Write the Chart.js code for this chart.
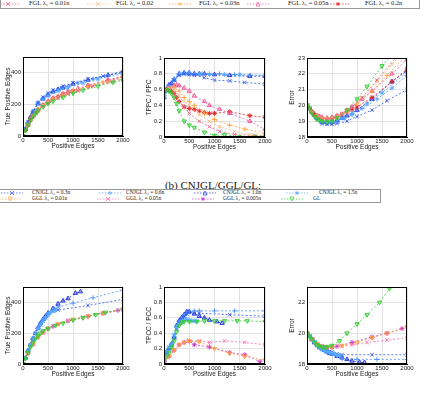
<!DOCTYPE html>
<html><head><meta charset="utf-8">
<script src="https://cdn.jsdelivr.net/npm/chart.js@4.4.1/dist/chart.umd.min.js"></script>
<style>
body{margin:0;width:428px;height:407px;overflow:hidden;background:#fff;position:relative;font-family:"Liberation Serif","DejaVu Serif",serif}
canvas{position:absolute}
.box{position:absolute;border:1px solid #999;background:#fff;box-sizing:border-box}
.item{position:absolute;white-space:nowrap;line-height:1;color:#222}
.item svg{position:absolute;left:0;top:0}
.item span{position:absolute;top:0}
#title{position:absolute;top:179px;left:0;width:426px;text-align:center;font-size:11px;font-weight:normal;color:#222}
</style></head><body>
<div class="box" id="legTop" style="left:0;top:-20px;width:420px;height:29px"></div>
<div id="title">(b) CNJGL/GGL/GL:</div>
<div class="box" id="legBot" style="left:-1px;top:189px;width:382px;height:14px"></div>
<canvas id="c1" width="135" height="105" style="left:0;top:45px"></canvas>
<canvas id="c2" width="136" height="105" style="left:141px;top:46px"></canvas>
<canvas id="c3" width="135" height="105" style="left:284px;top:46px"></canvas>
<canvas id="c4" width="135" height="103" style="left:0;top:275px"></canvas>
<canvas id="c5" width="136" height="103" style="left:141px;top:275px"></canvas>
<canvas id="c6" width="135" height="103" style="left:284px;top:275px"></canvas>
<script>
// tick labels
const xTicks = [0, 500, 1000, 1500, 2000];
const tpTicks = [0, 200, 400];
const ratioTicks = [0, 0.2, 0.4, 0.6, 0.8, 1];
const errTicksTop = [18, 19, 20, 21, 22, 23];
const errTicksBot = [18, 20, 22];

// legend labels
const topLegend = ['FGL λ₂ = 0.01n', 'FGL λ₂ = 0.02', 'FGL λ₂ = 0.03n', 'FGL λ₂ = 0.05n', 'FGL λ₂ = 0.2n'];
const botLegend1 = ['CNJGL λ₂ = 0.3n', 'CNJGL λ₂ = 0.6n', 'CNJGL λ₂ = 1.0n', 'CNJGL λ₂ = 1.5n'];
const botLegend2 = ['GGL λ₂ = 0.01n', 'GGL λ₂ = 0.05n', 'GGL λ₂ = 0.005n', 'GL'];

// ---- top row (positive edges, true positives, TPPC/PPC, error) ----
const cnA_x = [0, 50, 100, 150, 200, 300, 400, 500, 600, 700, 800, 1000, 1300, 1700, 2000];
const cnA_tp = [0, 45, 85, 120, 150, 205, 235, 260, 280, 295, 305, 330, 355, 385, 410];
const cnA_r = [0.5, 0.6, 0.66, 0.68, 0.72, 0.8, 0.81, 0.81, 0.8, 0.8, 0.8, 0.79, 0.78, 0.77, 0.77];
const cnA_e = [20, 19.8, 19.6, 19.4, 19.2, 18.95, 18.9, 18.95, 19.05, 19.2, 19.35, 19.7, 20.4, 21.5, 22.2];

const cnB_x = [0, 50, 100, 200, 300, 400, 500, 600, 750, 900, 1100, 1400, 1700, 2000];
const cnB_tp = [0, 45, 85, 155, 210, 240, 265, 285, 300, 315, 335, 360, 385, 405];
const cnB_r = [0.52, 0.62, 0.65, 0.74, 0.8, 0.82, 0.81, 0.8, 0.8, 0.8, 0.8, 0.79, 0.78, 0.78];
const cnB_e = [20, 19.8, 19.6, 19.15, 18.9, 18.85, 18.9, 19.0, 19.2, 19.4, 19.8, 20.4, 21.1, 21.9];

const cnC_x = [0, 50, 100, 200, 300, 400, 500, 600, 800, 1000, 1300, 1600, 2000];
const cnC_tp = [0, 45, 85, 155, 210, 245, 270, 290, 315, 335, 360, 380, 400];
const cnC_r = [0.55, 0.6, 0.65, 0.72, 0.78, 0.8, 0.79, 0.78, 0.75, 0.72, 0.71, 0.69, 0.67];
const cnC_e = [20, 19.8, 19.55, 19.1, 18.85, 18.8, 18.8, 18.85, 19.0, 19.3, 19.7, 20.3, 21.0];

const cnD_x = [0, 50, 100, 200, 300, 400, 500, 700, 900, 1200, 1500, 2000];
const cnD_tp = [0, 45, 85, 150, 205, 235, 255, 285, 305, 335, 360, 395];
const cnD_r = [0.5, 0.58, 0.64, 0.72, 0.79, 0.8, 0.8, 0.8, 0.79, 0.79, 0.79, 0.78];
const cnD_e = [20, 19.8, 19.6, 19.2, 19.0, 18.95, 19.0, 19.2, 19.5, 20.1, 20.8, 22.1];

const f02_x = [0, 50, 100, 150, 200, 250, 300, 400, 500, 600, 700, 800, 900, 1000, 1300, 1700, 2000];
const f02_tp = [0, 35, 70, 100, 125, 145, 165, 195, 215, 235, 250, 265, 275, 285, 315, 350, 375];
const f02_r = [0.6, 0.6, 0.6, 0.58, 0.55, 0.5, 0.45, 0.38, 0.36, 0.35, 0.33, 0.31, 0.3, 0.3, 0.32, 0.27, 0.25];
const f02_e = [20, 19.8, 19.6, 19.45, 19.35, 19.25, 19.2, 19.15, 19.2, 19.3, 19.45, 19.6, 19.75, 19.9, 20.5, 21.5, 22.3];

const f005_x = [0, 100, 200, 250, 300, 400, 500, 600, 800, 900, 1100, 1300, 1700, 2000];
const f005_tp = [0, 70, 125, 145, 165, 195, 220, 240, 265, 280, 300, 320, 355, 380];
const f005_r = [0.6, 0.62, 0.65, 0.66, 0.65, 0.62, 0.58, 0.52, 0.45, 0.4, 0.35, 0.3, 0.2, 0.1];
const f005_e = [20, 19.6, 19.35, 19.3, 19.25, 19.2, 19.25, 19.35, 19.7, 19.9, 20.4, 20.9, 22.0, 22.9];

const f003_x = [0, 100, 200, 300, 400, 500, 600, 800, 1000, 1300, 1600, 2000];
const f003_tp = [0, 70, 125, 165, 195, 215, 235, 260, 285, 315, 340, 370];
const f003_r = [0.6, 0.62, 0.63, 0.58, 0.5, 0.45, 0.4, 0.3, 0.22, 0.15, 0.1, 0.05];
const f003_e = [20, 19.6, 19.35, 19.2, 19.15, 19.2, 19.3, 19.6, 20.1, 20.9, 21.9, 23.2];

const f002_x = [0, 100, 200, 300, 400, 500, 700, 900, 1100, 1400, 1700, 2000];
const f002_tp = [0, 70, 125, 165, 195, 215, 245, 270, 290, 320, 345, 365];
const f002_r = [0.6, 0.62, 0.6, 0.52, 0.45, 0.4, 0.28, 0.2, 0.13, 0.07, 0.03, 0.02];
const f002_e = [20, 19.6, 19.35, 19.2, 19.15, 19.2, 19.45, 19.9, 20.5, 21.5, 22.6, 23.6];

const f001_x = [0, 100, 200, 300, 400, 500, 700, 900, 1100, 1400, 1800, 2000];
const f001_tp = [0, 70, 122, 160, 190, 210, 240, 265, 285, 315, 345, 360];
const f001_r = [0.6, 0.6, 0.55, 0.45, 0.38, 0.3, 0.2, 0.13, 0.07, 0.03, 0.02, 0.01];
const f001_e = [20, 19.6, 19.3, 19.15, 19.1, 19.15, 19.4, 19.9, 20.5, 21.6, 23.1, 23.8];

const glT_x = [0, 50, 100, 150, 200, 250, 300, 400, 500, 600, 800, 1000, 1200, 1500, 1800, 2000];
const glT_tp = [0, 35, 70, 100, 125, 145, 160, 185, 205, 220, 245, 270, 290, 315, 340, 350];
const glT_r = [0.6, 0.6, 0.58, 0.55, 0.5, 0.42, 0.33, 0.2, 0.15, 0.12, 0.06, 0.02, 0.03, 0, 0, 0];
const glT_e = [20, 19.8, 19.5, 19.3, 19.15, 19.05, 19.0, 18.95, 19.0, 19.2, 19.7, 20.4, 21.2, 22.5, 23.6, 24.3];

// ---- bottom row (positive edges, true positives, TPCC/PCC, error) ----
const c03_x = [0, 50, 100, 150, 200, 250, 300, 350, 400, 450, 500, 600, 700, 1300, 2000];
const c03_tp = [0, 40, 85, 125, 160, 195, 230, 255, 280, 300, 320, 345, 350, 380, 420];
const c03_r = [0.05, 0.15, 0.2, 0.24, 0.33, 0.45, 0.55, 0.58, 0.62, 0.65, 0.67, 0.66, 0.66, 0.64, 0.62];
const c03_e = [20, 19.8, 19.6, 19.4, 19.25, 19.1, 19.0, 18.9, 18.85, 18.8, 18.75, 18.65, 18.6, 18.6, 18.6];

const c06_x = [0, 50, 100, 150, 200, 250, 300, 350, 400, 450, 500, 600, 700, 1000, 1400, 2000];
const c06_tp = [0, 40, 85, 125, 165, 200, 235, 260, 285, 305, 325, 350, 370, 395, 430, 480];
const c06_r = [0.05, 0.15, 0.2, 0.25, 0.35, 0.48, 0.55, 0.6, 0.63, 0.66, 0.68, 0.69, 0.69, 0.69, 0.69, 0.69];
const c06_e = [20, 19.8, 19.6, 19.4, 19.25, 19.1, 19.0, 18.9, 18.8, 18.75, 18.7, 18.55, 18.35, 18.3, 18.3, 18.3];

const c10_x = [0, 50, 100, 150, 200, 250, 300, 350, 400, 450, 500, 600, 700, 800, 900, 1050, 1150];
const c10_tp = [0, 40, 85, 125, 165, 200, 235, 265, 290, 310, 330, 360, 390, 410, 425, 460, 470];
const c10_r = [0.05, 0.15, 0.2, 0.26, 0.35, 0.5, 0.56, 0.6, 0.64, 0.68, 0.68, 0.65, 0.62, 0.6, 0.57, 0.55, 0.53];
const c10_e = [20, 19.8, 19.6, 19.4, 19.25, 19.1, 19.0, 18.9, 18.8, 18.7, 18.65, 18.5, 18.4, 18.3, 18.2, 18.12, 18.1];

const c15_x = [0, 50, 100, 150, 200, 250, 300, 350, 400, 450, 500, 550, 600, 650];
const c15_tp = [0, 40, 85, 125, 165, 200, 230, 255, 280, 300, 320, 335, 345, 350];
const c15_r = [0.1, 0.16, 0.22, 0.26, 0.38, 0.48, 0.52, 0.55, 0.57, 0.58, 0.57, 0.56, 0.56, 0.56];
const c15_e = [20, 19.8, 19.6, 19.4, 19.2, 19.05, 18.95, 18.85, 18.8, 18.75, 18.7, 18.65, 18.6, 18.55];

const glB_x = [0, 50, 100, 150, 200, 250, 300, 350, 400, 500, 650, 800, 1000, 1200, 1450, 1650, 2000];
const glB_tp = [0, 35, 75, 110, 140, 165, 185, 200, 215, 230, 250, 265, 285, 300, 320, 335, 355];
const glB_r = [0.05, 0.1, 0.15, 0.22, 0.3, 0.42, 0.5, 0.54, 0.55, 0.55, 0.55, 0.56, 0.56, 0.56, 0.56, 0.56, 0.55];
const glB_e = [20, 19.8, 19.6, 19.4, 19.25, 19.15, 19.1, 19.1, 19.1, 19.2, 19.5, 20.0, 20.6, 21.2, 22.0, 22.9, 24.2];

const g001_x = [0, 100, 200, 300, 400, 500, 700, 1000, 1300, 1600, 2000];
const g001_tp = [0, 70, 130, 175, 205, 230, 260, 290, 310, 330, 352];
const g001_r = [0.02, 0.1, 0.18, 0.25, 0.28, 0.3, 0.29, 0.2, 0.14, 0.1, 0.05];
const g001_e = [20, 19.6, 19.3, 19.15, 19.1, 19.1, 19.2, 19.4, 19.7, 20.0, 20.4];

const g005_x = [0, 100, 200, 300, 400, 500, 700, 900, 1200, 1600, 2000];
const g005_tp = [0, 70, 130, 175, 205, 230, 260, 280, 305, 330, 352];
const g005_r = [0.02, 0.1, 0.18, 0.25, 0.28, 0.3, 0.3, 0.28, 0.3, 0.28, 0.25];
const g005_e = [20, 19.6, 19.3, 19.15, 19.1, 19.1, 19.15, 19.25, 19.4, 19.55, 19.7];

const g0005_x = [0, 100, 200, 300, 400, 500, 600, 900, 1300, 1600, 1900];
const g0005_tp = [0, 70, 130, 175, 205, 230, 245, 280, 310, 330, 348];
const g0005_r = [0.02, 0.1, 0.18, 0.25, 0.28, 0.3, 0.25, 0.22, 0.15, 0.12, 0.03];
const g0005_e = [20, 19.6, 19.3, 19.15, 19.1, 19.1, 19.15, 19.4, 19.75, 20.0, 20.3];

const DARKBLUE = '#1a2fd8', BLUE = '#3355ee', LIGHTBLUE = '#4a90ff', SKY = '#55aaff';
const RED = '#e02020', REDPINK = '#e8607a', PEACH = '#f5b880', ORANGE = '#ffa040', PINK = '#ee5599';
const GREEN = '#33cc33', MAGENTA = '#cc33cc', HOTPINK = '#ff66aa';

Chart.defaults.font.family = '"Liberation Sans", Arial, sans-serif';
Chart.defaults.font.size = 6;
Chart.defaults.color = '#222';

function ds(xs, ys, color, style, rot) {
  return {
    data: xs.map((x, i) => ({ x: x, y: ys[i] })),
    showLine: true,
    borderColor: color,
    backgroundColor: color + '55',
    borderWidth: 0.8,
    borderDash: [2, 2],
    pointStyle: style,
    pointRotation: rot || 0,
    pointRadius: 2.5,
    pointBorderWidth: 0.9,
    pointBorderColor: color,
    pointBackgroundColor: color + '55'
  };
}

const frame = {
  id: 'frame',
  afterDraw(chart) {
    const a = chart.chartArea, c = chart.ctx;
    c.save();
    c.strokeStyle = '#000';
    c.lineWidth = 1;
    c.strokeRect(a.left + 0.5, a.top + 0.5, a.right - a.left - 1, a.bottom - a.top - 1);
    c.restore();
  }
};

function makeChart(id, datasets, yMin, yMax, yTicks, yTitle) {
  new Chart(document.getElementById(id), {
    type: 'scatter',
    data: { datasets: datasets },
    options: {
      responsive: false,
      animation: false,
      devicePixelRatio: 1,
      layout: { padding: { top: 12, right: 12, left: 4, bottom: 0 } },
      plugins: { legend: { display: false }, tooltip: { enabled: false } },
      scales: {
        x: {
          type: 'linear', min: 0, max: 2000,
          afterBuildTicks: s => { s.ticks = xTicks.map(v => ({ value: v })); },
          afterFit: s => { s.height = 14; },
          grid: { color: '#e2e2e2', drawTicks: false },
          border: { color: '#000' },
          ticks: { padding: 1, maxRotation: 0, autoSkip: false, font: { size: 6 }, callback: v => String(v) },
          title: { display: true, text: 'Positive Edges', font: { size: 6.5 }, padding: { top: 0, bottom: 0 } }
        },
        y: {
          type: 'linear', min: yMin, max: yMax,
          afterBuildTicks: s => { s.ticks = yTicks.map(v => ({ value: v })); },
          afterFit: s => { s.width = 19; },
          grid: { color: '#e2e2e2', drawTicks: false },
          border: { color: '#000' },
          ticks: { padding: 2, autoSkip: false, font: { size: 6 }, callback: v => String(v) },
          title: { display: true, text: yTitle, font: { size: 6.5 }, padding: { top: 0, bottom: 1 } }
        }
      }
    },
    plugins: [frame]
  });
}

// top row
makeChart('c1', [
  ds(glT_x, glT_tp, GREEN, 'triangle', 180),
  ds(f001_x, f001_tp, REDPINK, 'crossRot'),
  ds(f002_x, f002_tp, PEACH, 'crossRot'),
  ds(f003_x, f003_tp, ORANGE, 'cross'),
  ds(f005_x, f005_tp, PINK, 'triangle'),
  ds(f02_x, f02_tp, RED, 'star'),
  ds(cnC_x, cnC_tp, BLUE, 'crossRot'),
  ds(cnD_x, cnD_tp, SKY, 'star'),
  ds(cnB_x, cnB_tp, LIGHTBLUE, 'cross'),
  ds(cnA_x, cnA_tp, DARKBLUE, 'triangle')
], 0, 500, tpTicks, 'True Positive Edges');

makeChart('c2', [
  ds(glT_x, glT_r, GREEN, 'triangle', 180),
  ds(f001_x, f001_r, REDPINK, 'crossRot'),
  ds(f002_x, f002_r, PEACH, 'crossRot'),
  ds(f003_x, f003_r, ORANGE, 'cross'),
  ds(f005_x, f005_r, PINK, 'triangle'),
  ds(f02_x, f02_r, RED, 'star'),
  ds(cnC_x, cnC_r, BLUE, 'crossRot'),
  ds(cnD_x, cnD_r, SKY, 'star'),
  ds(cnB_x, cnB_r, LIGHTBLUE, 'cross'),
  ds(cnA_x, cnA_r, DARKBLUE, 'triangle')
], 0, 1, ratioTicks, 'TPPC / PPC');

makeChart('c3', [
  ds(glT_x, glT_e, GREEN, 'triangle', 180),
  ds(f001_x, f001_e, REDPINK, 'crossRot'),
  ds(f002_x, f002_e, PEACH, 'crossRot'),
  ds(f003_x, f003_e, ORANGE, 'cross'),
  ds(f005_x, f005_e, PINK, 'triangle'),
  ds(f02_x, f02_e, RED, 'star'),
  ds(cnC_x, cnC_e, BLUE, 'crossRot'),
  ds(cnD_x, cnD_e, SKY, 'star'),
  ds(cnB_x, cnB_e, LIGHTBLUE, 'cross'),
  ds(cnA_x, cnA_e, DARKBLUE, 'triangle')
], 18, 23, errTicksTop, 'Error');

// bottom row
makeChart('c4', [
  ds(glB_x, glB_tp, GREEN, 'triangle', 180),
  ds(g001_x, g001_tp, ORANGE, 'triangle', 180),
  ds(g005_x, g005_tp, HOTPINK, 'crossRot'),
  ds(g0005_x, g0005_tp, MAGENTA, 'star'),
  ds(c15_x, c15_tp, SKY, 'star'),
  ds(c03_x, c03_tp, BLUE, 'crossRot'),
  ds(c06_x, c06_tp, LIGHTBLUE, 'cross'),
  ds(c10_x, c10_tp, DARKBLUE, 'triangle')
], 0, 500, tpTicks, 'True Positive Edges');

makeChart('c5', [
  ds(glB_x, glB_r, GREEN, 'triangle', 180),
  ds(g001_x, g001_r, ORANGE, 'triangle', 180),
  ds(g005_x, g005_r, HOTPINK, 'crossRot'),
  ds(g0005_x, g0005_r, MAGENTA, 'star'),
  ds(c15_x, c15_r, SKY, 'star'),
  ds(c03_x, c03_r, BLUE, 'crossRot'),
  ds(c06_x, c06_r, LIGHTBLUE, 'cross'),
  ds(c10_x, c10_r, DARKBLUE, 'triangle')
], 0, 1, ratioTicks, 'TPCC / PCC');

makeChart('c6', [
  ds(glB_x, glB_e, GREEN, 'triangle', 180),
  ds(g001_x, g001_e, ORANGE, 'triangle', 180),
  ds(g005_x, g005_e, HOTPINK, 'crossRot'),
  ds(g0005_x, g0005_e, MAGENTA, 'star'),
  ds(c15_x, c15_e, SKY, 'star'),
  ds(c03_x, c03_e, BLUE, 'crossRot'),
  ds(c06_x, c06_e, LIGHTBLUE, 'cross'),
  ds(c10_x, c10_e, DARKBLUE, 'triangle')
], 18, 23, errTicksBot, 'Error');

// legends
function marker(color, m) {
  const c = 11, y = 3, r = 2;
  let s = '<line x1="0" y1="3" x2="22" y2="3" stroke="' + color + '" stroke-width="0.7" stroke-dasharray="1.5,1.5"/>';
  const st = ' stroke="' + color + '" stroke-width="0.7" fill="none"';
  if (m === 'x') s += '<path d="M' + (c - r) + ' ' + (y - r) + 'L' + (c + r) + ' ' + (y + r) + 'M' + (c - r) + ' ' + (y + r) + 'L' + (c + r) + ' ' + (y - r) + '"' + st + '/>';
  if (m === '+') s += '<path d="M' + (c - r) + ' ' + y + 'L' + (c + r) + ' ' + y + 'M' + c + ' ' + (y - r) + 'L' + c + ' ' + (y + r) + '"' + st + '/>';
  if (m === 'tri') s += '<path d="M' + c + ' ' + (y - r) + 'L' + (c + r) + ' ' + (y + r) + 'L' + (c - r) + ' ' + (y + r) + 'Z"' + st + '/>';
  if (m === 'tridown') s += '<path d="M' + c + ' ' + (y + r) + 'L' + (c + r) + ' ' + (y - r) + 'L' + (c - r) + ' ' + (y - r) + 'Z"' + st + '/>';
  if (m === 'star') s += '<path d="M' + (c - r) + ' ' + y + 'L' + (c + r) + ' ' + y + 'M' + c + ' ' + (y - r) + 'L' + c + ' ' + (y + r) + 'M' + (c - 1.4) + ' ' + (y - 1.4) + 'L' + (c + 1.4) + ' ' + (y + 1.4) + 'M' + (c - 1.4) + ' ' + (y + 1.4) + 'L' + (c + 1.4) + ' ' + (y - 1.4) + '"' + st + '/>';
  if (m === 'circle') s += '<circle cx="' + c + '" cy="' + y + '" r="' + r + '"' + st + '/>';
  return '<svg width="22" height="6">' + s + '</svg>';
}

function legendItem(mx, tx, y, color, m, label, size) {
  const d = document.createElement('div');
  d.className = 'item';
  d.style.left = (mx - 11) + 'px';
  d.style.top = (y - 3) + 'px';
  d.style.fontSize = size + 'px';
  d.innerHTML = marker(color, m) + '<span style="left:' + (tx - mx + 11) + 'px;top:' + (3 - size * 0.55) + 'px">' + label + '</span>';
  document.body.appendChild(d);
}

const topMarks = [[8, 29, REDPINK, 'x'], [98, 116, PEACH, 'x'], [180, 199, ORANGE, '+'], [258, 288, PINK, 'tri'], [338, 365, RED, 'star']];
topLegend.forEach((t, i) => legendItem(topMarks[i][0], topMarks[i][1], 4, topMarks[i][2], topMarks[i][3], t, 6.5));

const bot1Marks = [[12, 32, BLUE, 'x'], [110, 126, LIGHTBLUE, '+'], [205, 223, DARKBLUE, 'tri'], [297, 319, SKY, 'star']];
botLegend1.forEach((t, i) => legendItem(bot1Marks[i][0], bot1Marks[i][1], 193, bot1Marks[i][2], bot1Marks[i][3], t, 5.5));
const bot2Marks = [[10, 32, ORANGE, 'tridown'], [108, 126, HOTPINK, 'x'], [203, 223, MAGENTA, 'star'], [292, 313, GREEN, 'tridown']];
botLegend2.forEach((t, i) => legendItem(bot2Marks[i][0], bot2Marks[i][1], 199, bot2Marks[i][2], bot2Marks[i][3], t, 5.5));
</script>
</body></html>
